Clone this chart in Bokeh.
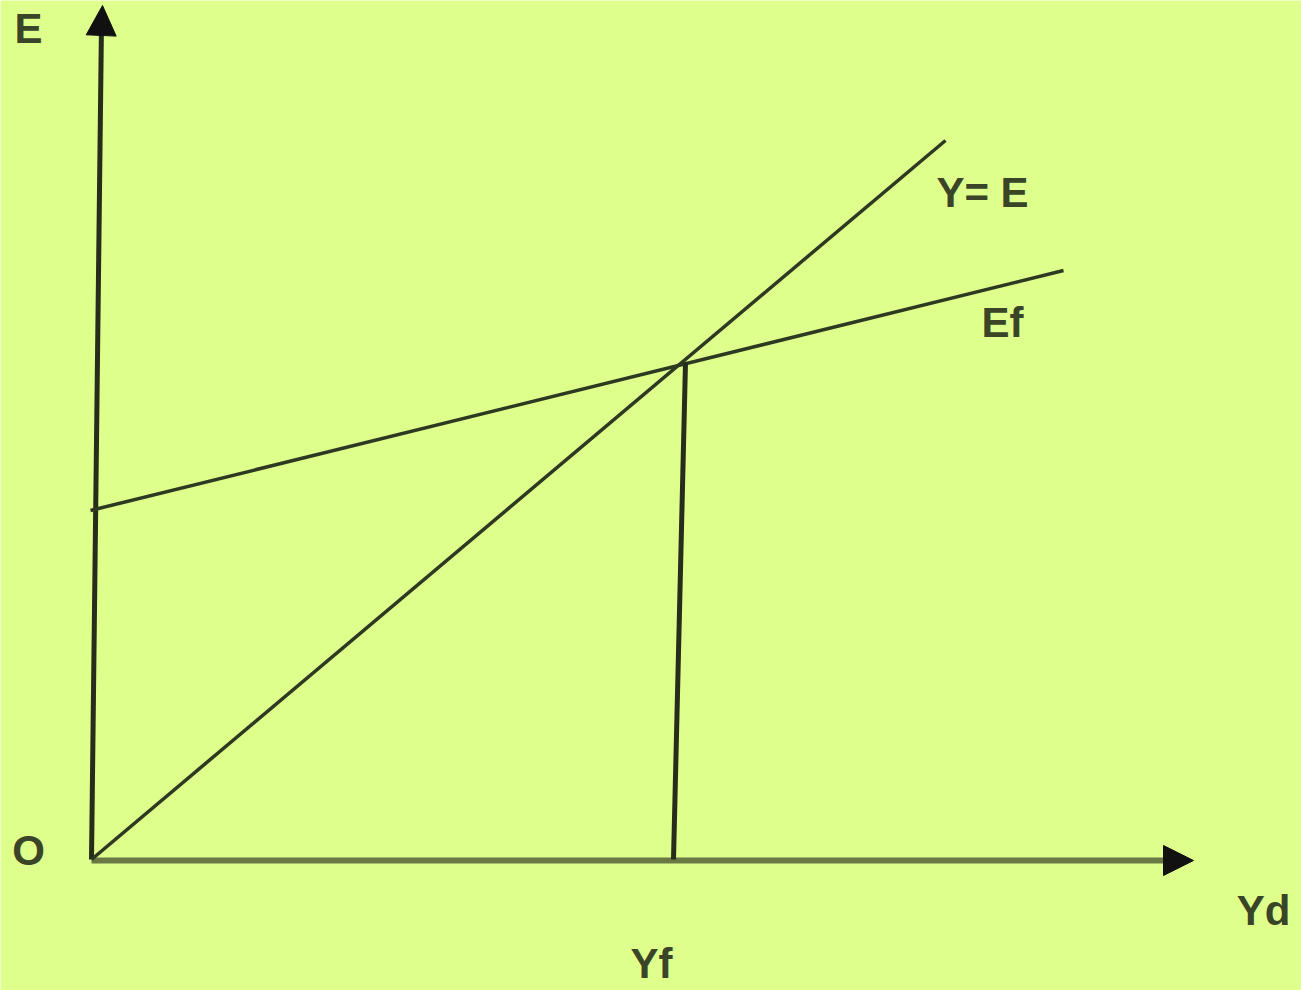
from bokeh.plotting import figure
from bokeh.models import Range1d, Arrow, NormalHead, ColumnDataSource
from bokeh.core.properties import value
from bokeh.embed import file_html
from bokeh.resources import INLINE

# Diagram data (units: relative to origin O)
yaxis_x = [0, 10]
yaxis_y = [0, 836]
xaxis_x = [0, 1080]
xaxis_y = [-1, -1]
ye_x = [0, 854]          # Y = E line (45-degree line)
ye_y = [0, 719]
ef_x = [-1, 972]         # Ef expenditure line
ef_y = [349, 589]
yf_x = [582, 594]        # vertical at full-employment income Yf
yf_y = [0, 497]

labels = ["E", "Y= E", "Ef", "O", "Yd", "Yf"]
label_x = [-63, 891, 911, -63, 1172, 560]
label_y = [831, 667, 537, 9, -51, -104]

BG = "#dfff8c"
INK = "#2f3820"

p = figure(width=1301, height=990, output_backend="svg", toolbar_location=None,
           x_range=Range1d(-91, 1210), y_range=Range1d(-131, 859),
           min_border=0, outline_line_color=None,
           background_fill_color=BG, border_fill_color=BG)
p.axis.visible = False
p.grid.visible = False

# axes
p.line(xaxis_x, xaxis_y, line_color="#6a7845", line_width=6)
p.line(yaxis_x, yaxis_y, line_color="#262d1a", line_width=5)
p.add_layout(Arrow(end=NormalHead(size=30, fill_color="#111111", line_color="#111111"),
                   x_start=yaxis_x[1], y_start=yaxis_y[1] - 5, x_end=11, y_end=854,
                   line_color="#262d1a", line_width=5))
p.add_layout(Arrow(end=NormalHead(size=30, fill_color="#111111", line_color="#111111"),
                   x_start=xaxis_x[1] - 5, y_start=-1, x_end=1102, y_end=-1,
                   line_color="#6a7845", line_width=5))

# curves
p.line(ye_x, ye_y, line_color=INK, line_width=3.5)
p.line(ef_x, ef_y, line_color=INK, line_width=3.5)
p.line(yf_x, yf_y, line_color="#262d1a", line_width=5)

src = ColumnDataSource(dict(x=label_x, y=label_y, t=labels))
p.text("x", "y", text="t", source=src, text_font=value("Liberation Sans"),
       text_font_style="bold", text_font_size="42px", text_color="#3a4528",
       text_align="center", text_baseline="middle")

open("out.html", "w").write(file_html(p, INLINE))
